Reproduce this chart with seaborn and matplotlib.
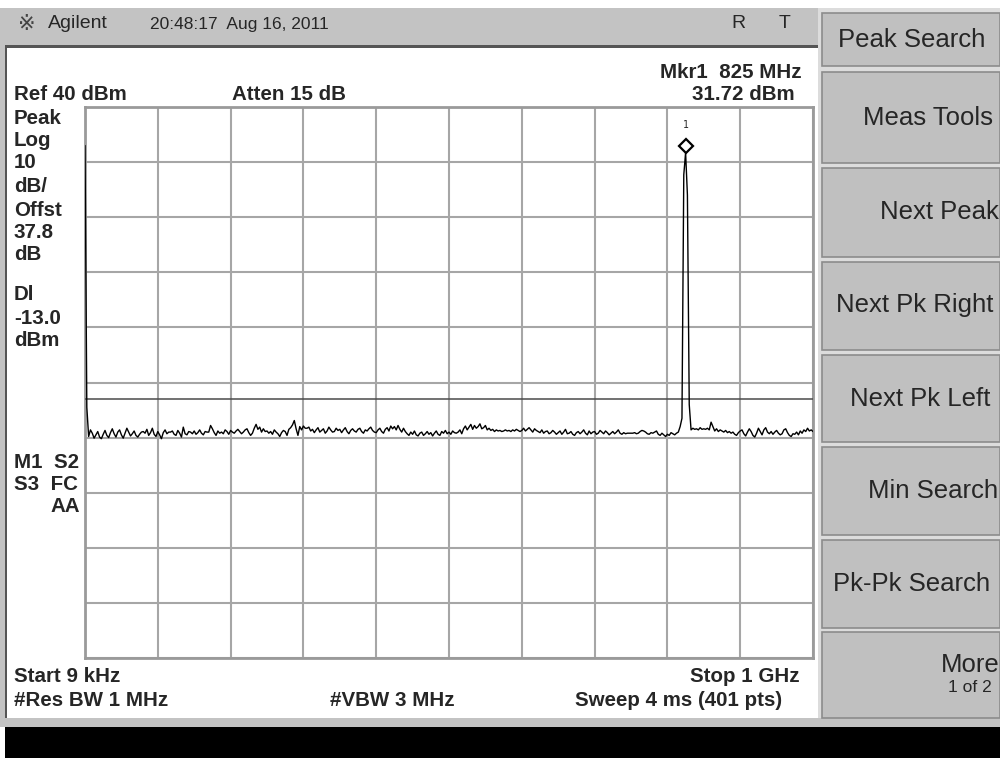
import numpy as np
import matplotlib
matplotlib.use('Agg')
import matplotlib.pyplot as plt
import matplotlib.patches as mpatches
from matplotlib.transforms import offset_copy
import seaborn as sns

# Sweep settings
start_mhz = 0.009
stop_mhz = 1000.0
ref_level = 40
db_per_div = 10
display_line = -13.0
mkr_freq = 825.0
mkr_level = 31.72

# Trace (dBm), 401 points
trace_dbm = [
    33.0, -14.5, -19.8, -18.6, -19.2, -20.1, -19.5, -18.9, -19.9, -20.2, -19.4, -18.7, -19.6, -20.0, -19.1, -18.4, -19.3, -19.9, -19.0, -18.6,
    -19.5, -20.1, -19.2, -18.3, -19.0, -19.7, -19.3, -18.8, -19.6, -19.9, -19.4, -19.0, -18.9, -19.2, -18.5, -19.6, -19.1, -18.3, -19.4, -19.8,
    -18.9, -19.5, -20.2, -19.1, -18.6, -19.3, -19.0, -19.0, -18.8, -19.4, -19.6, -18.7, -19.2, -19.9, -18.1, -19.3, -19.5, -18.9, -19.0, -19.3,
    -18.8, -19.4, -19.1, -18.6, -19.2, -19.5, -18.9, -19.0, -19.0, -17.8, -18.4, -19.1, -19.6, -18.8, -19.2, -19.0, -19.3, -18.6, -18.9, -19.4,
    -18.7, -19.0, -19.2, -18.8, -18.5, -18.9, -19.3, -19.0, -18.6, -18.4, -19.1, -19.6, -19.2, -18.3, -17.6, -18.5, -18.1, -19.0, -18.4, -18.9,
    -18.8, -19.2, -18.9, -19.4, -18.6, -19.0, -19.3, -19.8, -19.1, -18.7, -18.9, -19.6, -18.5, -18.2, -17.7, -16.9, -18.4, -19.6, -18.0, -18.6,
    -17.9, -18.3, -18.3, -18.1, -18.8, -18.5, -19.1, -18.6, -18.2, -19.0, -18.7, -18.4, -19.2, -18.8, -18.1, -18.6, -19.0, -18.9, -18.3, -18.7,
    -18.5, -19.1, -18.6, -18.2, -18.9, -19.3, -18.7, -18.4, -18.8, -19.0, -18.5, -18.3, -18.9, -19.2, -18.6, -18.8, -18.4, -18.1, -18.7, -19.0,
    -19.1, -18.6, -18.3, -18.9, -19.2, -18.5, -18.2, -18.8, -17.9, -18.4, -18.0, -18.6, -17.8, -18.5, -19.0, -18.3, -18.9, -19.3, -19.6, -19.0,
    -19.4, -18.8, -19.5, -19.7, -19.2, -19.0, -19.6, -19.3, -18.9, -19.4, -19.1, -19.7, -19.2, -18.8, -19.4, -19.6, -18.9, -19.2, -18.7, -19.3,
    -19.0, -19.4, -18.8, -19.1, -19.2, -19.0, -18.6, -19.3, -18.4, -17.9, -18.6, -18.1, -17.6, -18.5, -17.8, -18.3, -18.0, -17.5, -18.4, -18.2,
    -17.8, -18.6, -18.3, -18.7, -18.5, -18.9, -18.6, -18.8, -18.7, -18.9, -18.8, -18.6, -18.8, -18.7, -18.9, -18.6, -18.8, -18.5, -18.7, -18.9,
    -18.7, -18.3, -18.8, -18.5, -18.2, -18.6, -19.0, -18.4, -18.7, -18.9, -19.1, -18.6, -19.2, -18.9, -18.8, -19.3, -19.1, -18.7, -19.0, -19.4,
    -19.1, -18.8, -19.4, -19.0, -18.5, -19.3, -19.2, -18.9, -19.4, -19.6, -19.1, -18.9, -19.3, -19.0, -18.6, -19.2, -19.5, -18.8, -19.3, -19.0,
    -18.9, -19.4, -19.2, -18.7, -19.0, -19.3, -18.8, -19.1, -19.5, -19.2, -18.9, -19.3, -19.0, -18.6, -19.2, -19.4, -19.1, -19.3, -19.2, -19.2,
    -19.2, -19.2, -19.1, -19.3, -19.2, -18.9, -18.7, -18.8, -19.0, -19.3, -19.4, -19.1, -19.2, -19.0, -18.8, -19.4, -19.6, -19.2, -19.5, -19.8,
    -19.4, -19.6, -19.1, -19.3, -19.5, -19.2, -19.0, -18.0, -16.5, 27.7, 31.72, 24.0, -14.0, -18.6, -18.3, -18.5, -18.4, -18.6, -18.2, -18.5,
    -18.4, -18.5, -18.3, -18.6, -17.2, -18.0, -18.8, -18.4, -18.9, -18.6, -18.8, -19.0, -18.7, -19.1, -18.9, -19.2, -19.0, -19.4, -19.6, -19.1,
    -18.8, -18.6, -19.3, -19.7, -19.0, -18.4, -18.9, -19.6, -19.9, -19.2, -18.3, -18.9, -19.5, -18.6, -18.2, -19.0, -19.3, -18.9, -19.4, -19.0,
    -18.7, -19.2, -19.5, -19.3, -18.6, -18.4, -19.1, -19.6, -19.8, -19.3, -19.4, -19.0, -19.5, -18.8, -19.2, -18.6, -18.9, -18.3, -18.8, -18.6,
    -18.9,
]
freq_mhz = np.linspace(start_mhz, stop_mhz, len(trace_dbm))

left_labels = ['Peak', 'Log', '10', 'dB/', 'Offst', '37.8', 'dB', 'Dl', '-13.0', 'dBm']
left_label_y = [118, 140, 163, 186, 210, 233, 255, 295, 318, 340]

softkeys = ['Peak Search', 'Meas Tools', 'Next Peak', 'Next Pk Right',
            'Next Pk Left', 'Min Search', 'Pk-Pk Search', 'More']
key_top = [13, 72, 168, 262, 355, 447, 540, 632]
key_bot = [66, 163, 257, 350, 442, 535, 628, 718]
key_text_x = [838, 993, 999, 993, 990, 998, 990, 1000]
key_text_y = [40, 118, 212, 305, 399, 491, 584, 665]

sns.set_style('white')
plt.rcParams['font.family'] = ['Liberation Sans', 'DejaVu Sans']

W, H = 1000, 758
fig = plt.figure(figsize=(10, 7.58), dpi=100)
fig.patch.set_facecolor('white')


def fx(px):
    return px / W


def fy(py):
    return 1 - py / H


def box(x0, y0, x1, y1, **kw):
    fig.patches.append(mpatches.Rectangle((fx(x0), fy(y1)), (x1 - x0) / W, (y1 - y0) / H,
                                          transform=fig.transFigure, figure=fig, **kw))


# frame of the instrument screen
box(0, 8, 818, 45, facecolor='#c3c3c3', edgecolor='none')
box(5, 45, 818, 48, facecolor='#555555', edgecolor='none')
box(0, 45, 5, 720, facecolor='#c3c3c3', edgecolor='none')
box(5, 48, 7, 718, facecolor='#555555', edgecolor='none')
box(0, 718, 1000, 727, facecolor='#c3c3c3', edgecolor='none')
box(5, 727, 1000, 758, facecolor='black', edgecolor='none')
box(818, 8, 1000, 718, facecolor='#dcdcdc', edgecolor='none')

for i, lab in enumerate(softkeys):
    box(822, key_top[i], 1000, key_bot[i], facecolor='#c0c0c0', edgecolor='#8c8c8c', linewidth=1.2)
    if i == 0:
        fig.text(fx(key_text_x[i]), fy(key_text_y[i]), lab, fontsize=18.5, ha='left', va='center')
    else:
        fig.text(fx(key_text_x[i]), fy(key_text_y[i]), lab, fontsize=18.5, ha='right', va='center')
fig.text(fx(992), fy(687), '1 of 2', fontsize=12.5, ha='right', va='center')

# header
fig.text(fx(18), fy(24), '※', fontsize=15, color='#444444', va='center',
         family=['DejaVu Sans', 'Noto Sans CJK JP'])
fig.text(fx(48), fy(24), 'Agilent', fontsize=14, va='center')
fig.text(fx(150), fy(24), '20:48:17  Aug 16, 2011', fontsize=12.5, va='center')
fig.text(fx(738), fy(24), 'R', fontsize=14, ha='center', va='center')
fig.text(fx(785), fy(24), 'T', fontsize=14, ha='center', va='center')

bold = dict(fontsize=14.8, fontweight='bold', va='center')
fig.text(fx(802), fy(72), 'Mkr1  825 MHz', ha='right', **bold)
fig.text(fx(14), fy(95), 'Ref 40 dBm', **bold)
fig.text(fx(232), fy(95), 'Atten 15 dB', **bold)
fig.text(fx(795), fy(95), '31.72 dBm', ha='right', **bold)
for lab, y in zip(left_labels, left_label_y):
    fig.text(fx(14), fy(y), lab, **bold)
fig.text(fx(14), fy(462), 'M1  S2', **bold)
fig.text(fx(14), fy(485), 'S3  FC', **bold)
fig.text(fx(80), fy(507), 'AA', ha='right', **bold)
fig.text(fx(14), fy(676), 'Start 9 kHz', **bold)
fig.text(fx(800), fy(676), 'Stop 1 GHz', ha='right', **bold)
fig.text(fx(14), fy(700), '#Res BW 1 MHz', **bold)
fig.text(fx(330), fy(700), '#VBW 3 MHz', **bold)
fig.text(fx(782), fy(700), 'Sweep 4 ms (401 pts)', ha='right', **bold)

# graticule
ax = fig.add_axes([fx(85), fy(658), 728 / W, 551 / H])
ax.set_xlim(start_mhz, stop_mhz)
ax.set_ylim(ref_level - 10 * db_per_div, ref_level)
ax.set_xticks(np.linspace(start_mhz, stop_mhz, 11))
ax.set_yticks(np.arange(ref_level - 10 * db_per_div, ref_level + 1, db_per_div))
ax.grid(True, color='#a6a6a6', linewidth=1.5)
ax.tick_params(length=0, labelbottom=False, labelleft=False)
for s in ax.spines.values():
    s.set_color('#9a9a9a')
    s.set_linewidth(2)

ax.axhline(display_line, color='#4a4a4a', linewidth=1.1, zorder=3)
sns.lineplot(x=freq_mhz, y=trace_dbm, ax=ax, color='black', linewidth=1.0, zorder=4)

mk = offset_copy(ax.transData, fig=fig, y=7, units='dots')
ax.plot([mkr_freq], [mkr_level], marker='D', markersize=7.5, markerfacecolor='white',
        markeredgecolor='black', markeredgewidth=1.6, transform=mk, zorder=5, clip_on=False)
ax.annotate('1', xy=(mkr_freq, mkr_level), xytext=(0, 20), textcoords='offset points',
            ha='center', va='center', fontsize=7, family='DejaVu Sans Mono')

fig.savefig('out.png', dpi=100)
plt.close()
